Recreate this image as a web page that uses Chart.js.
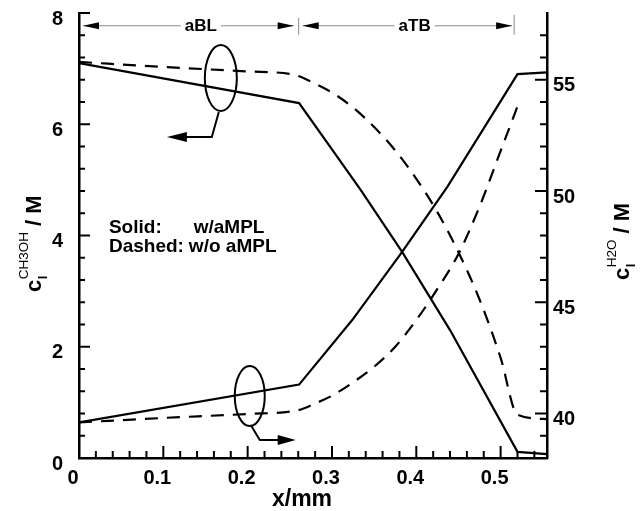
<!DOCTYPE html>
<html>
<head>
<meta charset="utf-8">
<title>Methanol / water concentration across aBL and aTB</title>
<script src="https://cdn.jsdelivr.net/npm/chart.js@4.4.0/dist/chart.umd.min.js"></script>
<style>
  html, body { margin: 0; padding: 0; background: #fff; }
  #wrap { width: 641px; height: 511px; }
</style>
</head>
<body>
<div id="wrap"><canvas id="conc" width="641" height="511"></canvas></div>
<script>
const FONT = "'Liberation Sans', Arial, Helvetica, sans-serif";

// methanol, left axis (M)
const xMeohSolid = [0, 0.261, 0.30, 0.334, 0.383, 0.44, 0.52, 0.555];
const meohSolid = [7.1, 6.38, 5.55, 4.82, 3.71, 2.30, 0.11, 0.07];
const xMeohDashed = [0, 0.10, 0.20, 0.255, 0.28, 0.30, 0.325, 0.35, 0.375, 0.40, 0.425, 0.45, 0.475, 0.50, 0.52, 0.555];
const meohDashed = [7.12, 7.03, 6.95, 6.89, 6.73, 6.57, 6.30, 5.95, 5.53, 5.02, 4.42, 3.70, 2.85, 1.80, 0.78, 0.70];

// water, right axis (M)
const xWaterSolid = [0, 0.261, 0.324, 0.383, 0.437, 0.52, 0.555];
const waterSolid = [39.6, 41.3, 44.2, 47.25, 50.2, 55.25, 55.33];
const xWaterDashed = [0, 0.10, 0.20, 0.26, 0.28, 0.30, 0.325, 0.35, 0.375, 0.40, 0.425, 0.45, 0.475, 0.50, 0.521];
const waterDashed = [39.6, 39.8, 39.98, 40.15, 40.45, 40.8, 41.4, 42.1, 43.0, 44.2, 45.6, 47.17, 49.3, 51.8, 53.9];

const xTicks = [0, 0.1, 0.2, 0.3, 0.4, 0.5];
const leftTicks = [0, 2, 4, 6, 8];
const rightTicks = [40, 45, 50, 55];

// zone markers along the top (x in mm)
const zoneEdges = [0, 0.2605, 0.516];
const zoneNames = ["aBL", "aTB"];
const zoneLabelX = [0.1445, 0.398];

const toPoints = (xs, ys) => xs.map((x, i) => ({ x, y: ys[i] }));

function seg(ctx, x1, y1, x2, y2) {
    ctx.beginPath();
    ctx.moveTo(x1, y1);
    ctx.lineTo(x2, y2);
    ctx.stroke();
}

function poly(ctx, pts) {
    ctx.beginPath();
    ctx.moveTo(pts[0][0], pts[0][1]);
    for (let i = 1; i < pts.length; i++) ctx.lineTo(pts[i][0], pts[i][1]);
    ctx.stroke();
}

function arrowHead(ctx, tipX, tipY, dir, len, half) {
    ctx.beginPath();
    ctx.moveTo(tipX, tipY);
    ctx.lineTo(tipX - dir * len, tipY - half);
    ctx.lineTo(tipX - dir * len, tipY + half);
    ctx.closePath();
    ctx.fill();
}

// rotated axis title with a subscript and superscript after the first letter
function richTitle(ctx, bx, by, sup, tail) {
    ctx.save();
    ctx.translate(bx, by);
    ctx.rotate(-Math.PI / 2);
    ctx.fillStyle = "#000";
    ctx.textBaseline = "alphabetic";
    ctx.textAlign = "left";
    ctx.font = `bold 22px ${FONT}`;
    ctx.fillText("c", 0, 0);
    let x = ctx.measureText("c").width + 0.5;
    ctx.font = `bold 13px ${FONT}`;
    ctx.fillText("l", x, 6);
    ctx.font = `13.5px ${FONT}`;
    ctx.fillText(sup, x, -13);
    x += ctx.measureText(sup).width;
    ctx.font = `bold 22px ${FONT}`;
    ctx.fillText(tail, x, 0);
    ctx.restore();
}

const ticksAndNotes = {
    id: "ticksAndNotes",
    afterDraw(chart) {
        const ctx = chart.ctx;
        const area = chart.chartArea;
        const sx = chart.scales.x, sy = chart.scales.y, sy2 = chart.scales.y2;
        const X = (v) => sx.getPixelForValue(v);
        const Y = (v) => sy.getPixelForValue(v);
        ctx.save();
        ctx.strokeStyle = "#000";
        ctx.fillStyle = "#000";
        ctx.setLineDash([]);

        // inward ticks, major and minor
        ctx.lineWidth = 2;
        for (let i = 0; i <= 27; i++) {
            const px = X(i * 0.02);
            seg(ctx, px, area.bottom, px, area.bottom - (i % 5 === 0 ? 12 : 7));
        }
        for (let i = 0; i <= 20; i++) {
            const py = Y(i * 0.4);
            seg(ctx, area.left, py, area.left + (i % 5 === 0 ? 11 : 6), py);
        }
        for (let v = 39; v <= 57; v++) {
            const py = sy2.getPixelForValue(v);
            seg(ctx, area.right, py, area.right - (v % 5 === 0 ? 12 : 7), py);
        }

        // zone markers at the top
        const ty = Y(7.77);
        ctx.lineWidth = 1;
        ctx.strokeStyle = "#8a8a8a";
        ctx.font = `bold 17px ${FONT}`;
        ctx.textAlign = "center";
        ctx.textBaseline = "middle";
        zoneNames.forEach((name, i) => {
            const a = X(zoneEdges[i]) + 4;
            const b = X(zoneEdges[i + 1]) - (i === 0 ? 5 : 2);
            seg(ctx, a, ty, b, ty);
            const cx = X(zoneLabelX[i]);
            const w = ctx.measureText(name).width + 8;
            ctx.fillStyle = "#fff";
            ctx.fillRect(cx - w / 2, ty - 9, w, 18);
            ctx.fillStyle = "#000";
            ctx.fillText(name, cx, ty + 1);
            arrowHead(ctx, a, ty, -1, 16, 3.5);
            arrowHead(ctx, b, ty, 1, 16, 3.5);
        });
        seg(ctx, X(zoneEdges[1]), ty - 8, X(zoneEdges[1]), ty + 9);
        seg(ctx, X(zoneEdges[2]), ty - 11, X(zoneEdges[2]), ty + 9);

        // ellipses with arrows pointing to the matching axis
        ctx.strokeStyle = "#000";
        ctx.lineWidth = 2;
        ctx.beginPath();
        ctx.ellipse(X(0.1682), Y(6.83), 16, 33, 0, 0, Math.PI * 2);
        ctx.stroke();
        poly(ctx, [[X(0.1658), Y(6.22)], [X(0.1575), Y(5.77)], [X(0.1042) + 18, Y(5.77)]]);
        arrowHead(ctx, X(0.1042), Y(5.77), -1, 20, 5);

        ctx.beginPath();
        ctx.ellipse(X(0.2025), Y(1.115), 15, 30, 0, 0, Math.PI * 2);
        ctx.stroke();
        poly(ctx, [[X(0.2037), Y(0.593)], [X(0.2144), Y(0.324)], [X(0.257) - 16, Y(0.324)]]);
        arrowHead(ctx, X(0.257), Y(0.324), 1, 18, 5);

        // line style key
        ctx.font = `bold 19px ${FONT}`;
        ctx.textAlign = "left";
        ctx.textBaseline = "alphabetic";
        ctx.fillText("Solid:", X(0.0355), Y(4.05));
        ctx.fillText("w/aMPL", X(0.136), Y(4.05));
        ctx.fillText("Dashed:", X(0.0355), Y(3.70));
        ctx.fillText("w/o aMPL", X(0.1303), Y(3.70));

        // axis titles
        ctx.font = `bold 23px ${FONT}`;
        ctx.textAlign = "center";
        ctx.fillText("x/mm", (area.left + area.right) / 2 - 11, 506);
        richTitle(ctx, 41, 292, "CH3OH", " / M");
        richTitle(ctx, 629, 280, "H2O", " / M");
        ctx.restore();
    }
};

const tickFont = { family: FONT, size: 20, weight: "bold" };
const axisBorder = { display: true, color: "#000", width: 2.5 };
const noGrid = { display: true, drawOnChartArea: false, drawTicks: false };
const noPad = (s) => { s.paddingTop = 0; s.paddingBottom = 0; s.paddingLeft = 0; s.paddingRight = 0; };

new Chart(document.getElementById("conc"), {
    type: "line",
    data: {
        datasets: [
            { label: "CH3OH, w/aMPL", data: toPoints(xMeohSolid, meohSolid), yAxisID: "y", borderColor: "#000", borderWidth: 2.2, pointRadius: 0, tension: 0 },
            { label: "CH3OH, w/o aMPL", data: toPoints(xMeohDashed, meohDashed), yAxisID: "y", borderColor: "#000", borderWidth: 2.2, borderDash: [13, 9], pointRadius: 0, cubicInterpolationMode: "monotone" },
            { label: "H2O, w/aMPL", data: toPoints(xWaterSolid, waterSolid), yAxisID: "y2", borderColor: "#000", borderWidth: 2.2, pointRadius: 0, tension: 0 },
            { label: "H2O, w/o aMPL", data: toPoints(xWaterDashed, waterDashed), yAxisID: "y2", borderColor: "#000", borderWidth: 2.2, borderDash: [13, 9], pointRadius: 0, cubicInterpolationMode: "monotone" }
        ]
    },
    options: {
        responsive: false,
        animation: false,
        devicePixelRatio: 1,
        layout: { padding: { top: 13, left: 0, right: 0, bottom: 0 } },
        plugins: { legend: { display: false }, tooltip: { enabled: false } },
        scales: {
            x: {
                type: "linear", min: 0, max: 0.555,
                afterBuildTicks: (s) => { s.ticks = xTicks.map((v) => ({ value: v })); },
                afterFit: (s) => { s.height = 53; noPad(s); },
                grid: noGrid, border: axisBorder,
                ticks: { color: "#000", font: tickFont, padding: 8, labelOffset: -6, maxRotation: 0, callback: (v) => String(Math.round(v * 10) / 10) }
            },
            y: {
                type: "linear", position: "left", min: 0, max: 8,
                afterBuildTicks: (s) => { s.ticks = leftTicks.map((v) => ({ value: v })); },
                afterFit: (s) => { s.width = 79; noPad(s); },
                grid: noGrid, border: axisBorder,
                ticks: { color: "#000", font: tickFont, padding: 16, labelOffset: 6 }
            },
            y2: {
                type: "linear", position: "right", min: 38, max: 58,
                afterBuildTicks: (s) => { s.ticks = rightTicks.map((v) => ({ value: v })); },
                afterFit: (s) => { s.width = 94; noPad(s); },
                grid: noGrid, border: axisBorder,
                ticks: { color: "#000", font: tickFont, padding: 6, labelOffset: 6 }
            }
        }
    },
    plugins: [ticksAndNotes]
});
</script>
</body>
</html>
